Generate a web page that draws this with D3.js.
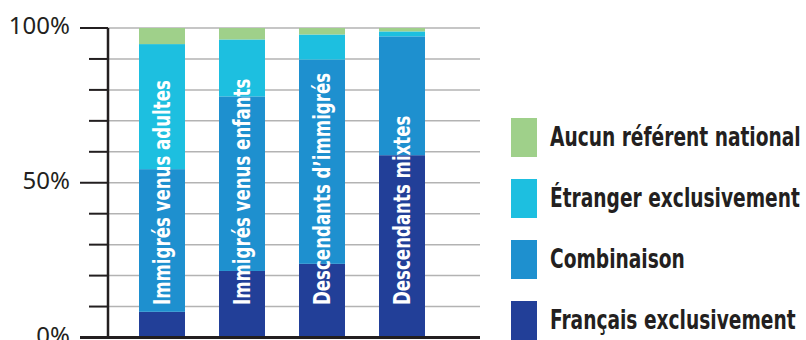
<!DOCTYPE html>
<html>
<head>
<meta charset="utf-8">
<script src="https://cdn.jsdelivr.net/npm/d3@7"></script>
<style>
  html, body { margin: 0; padding: 0; background: #fff; }
  svg { display: block; }
  .cond { font-family: "Liberation Sans Narrow", "DejaVu Sans Condensed", "Arial Narrow", sans-serif; font-weight: bold; font-stretch: condensed; }
</style>
</head>
<body>
<svg width="806" height="340"></svg>
<script>
// groups (bars) and stacked series, values in %
let groups = ['Immigrés venus adultes', 'Immigrés venus enfants', 'Descendants d\u2019immigrés', 'Descendants mixtes'];
let francais   = [8.3, 21.5, 23.8, 58.9];
let combinaison = [46.1, 56.4, 66.0, 38.4];
let etranger   = [40.4, 18.4, 8.1, 1.6];
let aucun      = [5.2, 3.7, 2.1, 1.1];

let seriesNames = ['Français exclusivement', 'Combinaison', 'Étranger exclusivement', 'Aucun référent national'];
let seriesColors = ['#223f98', '#1e90cf', '#1dbfe0', '#9fd08a'];
let yTicks = [0, 10, 20, 30, 40, 50, 60, 70, 80, 90, 100];
let yLabels = [0, 50, 100];

let svg = d3.select('svg');

// the reference uses a condensed bold face; squeeze the available one to its width
function squeeze(str, size, target) {
  let t = svg.append('text').attr('class', 'cond').attr('font-size', size).text(str);
  let w = t.node().getComputedTextLength();
  t.remove();
  return target / w;
}

let rows = groups.map((g, i) => ({
  group: g,
  s0: francais[i], s1: combinaison[i], s2: etranger[i], s3: aucun[i]
}));

let stack = d3.stack().keys(['s0', 's1', 's2', 's3']);
let stacked = stack(rows);

let axisX = 108;
let gridEnd = 480;

let x = d3.scaleBand()
  .domain(groups)
  .range([axisX, 456])
  .paddingInner(0.425)
  .paddingOuter(0.3875);

let y = d3.scaleLinear()
  .domain([0, 100])
  .range([337.5, 28]);

// gridlines
svg.append('g')
  .selectAll('line')
  .data(yTicks.filter(d => d > 0))
  .enter().append('line')
  .attr('x1', axisX)
  .attr('x2', gridEnd)
  .attr('y1', d => y(d))
  .attr('y2', d => y(d))
  .attr('stroke', '#b3b3b3')
  .attr('stroke-width', 1.5);

// bars
let layers = svg.append('g')
  .selectAll('g')
  .data(stacked)
  .enter().append('g')
  .attr('fill', (d, i) => seriesColors[i]);

layers.selectAll('rect')
  .data(d => d)
  .enter().append('rect')
  .attr('x', d => x(d.data.group))
  .attr('width', x.bandwidth())
  .attr('y', d => y(d[1]))
  .attr('height', d => y(d[0]) - y(d[1]));

// bar labels (rotated)
let kBar = squeeze(groups[0], 23, 225);

svg.append('g')
  .selectAll('text')
  .data(groups)
  .enter().append('text')
  .attr('class', 'cond')
  .attr('transform', d => `translate(${x(d) + x.bandwidth() / 2 + 8},305) rotate(-90) scale(${kBar},1)`)
  .attr('fill', '#fff')
  .attr('font-size', 23)
  .text(d => d);

// y axis ticks
svg.append('g')
  .selectAll('line')
  .data(yTicks)
  .enter().append('line')
  .attr('x1', d => yLabels.includes(d) ? 80 : 89)
  .attr('x2', axisX)
  .attr('y1', d => y(d))
  .attr('y2', d => y(d))
  .attr('stroke', '#231f20')
  .attr('stroke-width', 2);

// axis line
svg.append('line')
  .attr('x1', axisX).attr('x2', axisX)
  .attr('y1', y(100)).attr('y2', y(0))
  .attr('stroke', '#231f20')
  .attr('stroke-width', 2.5);

// baseline
svg.append('line')
  .attr('x1', 80).attr('x2', gridEnd)
  .attr('y1', y(0)).attr('y2', y(0))
  .attr('stroke', '#231f20')
  .attr('stroke-width', 3);

svg.append('g')
  .selectAll('text')
  .data(yLabels)
  .enter().append('text')
  .attr('x', 70)
  .attr('y', d => y(d) + 6)
  .attr('text-anchor', 'end')
  .attr('font-family', '"Noto Sans", sans-serif')
  .attr('font-size', 24)
  .attr('fill', '#231f20')
  .text(d => d + '%');

// legend, top to bottom reversed order
let kLeg = squeeze(seriesNames[2], 27, 250);

let legend = svg.append('g')
  .selectAll('g')
  .data(seriesNames.map((n, i) => ({ name: n, color: seriesColors[i] })).reverse())
  .enter().append('g')
  .attr('transform', (d, i) => `translate(511,${118 + i * 61})`);

legend.append('rect')
  .attr('width', 26)
  .attr('height', 39)
  .attr('fill', d => d.color);

legend.append('text')
  .attr('class', 'cond')
  .attr('transform', `translate(39,28) scale(${kLeg},1)`)
  .attr('font-size', 27)
  .attr('fill', '#231f20')
  .text(d => d.name);
</script>
</body>
</html>
